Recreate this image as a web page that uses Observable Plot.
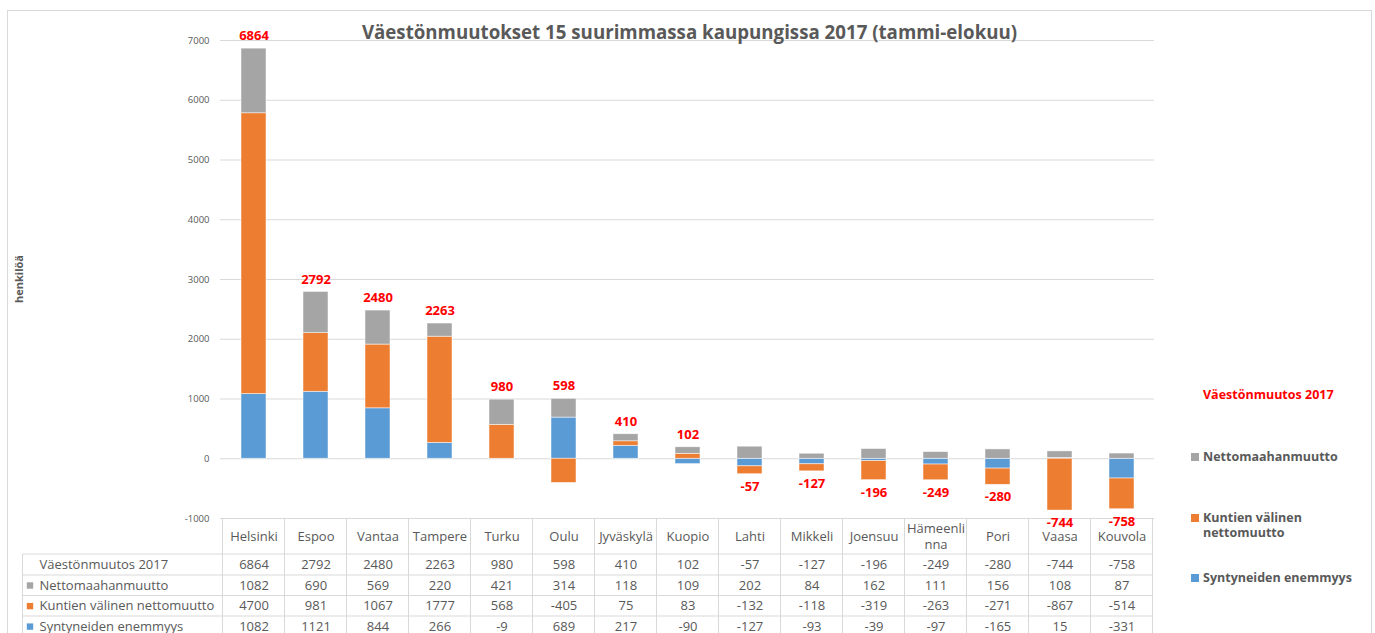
<!DOCTYPE html>
<html>
<head>
<meta charset="utf-8">
<script src="https://cdn.jsdelivr.net/npm/d3@7"></script>
<script src="https://cdn.jsdelivr.net/npm/@observablehq/plot@0.6"></script>
<style>
  body { margin: 0; background: #fff; }
  #wrap { position: relative; width: 1375px; height: 633px; overflow: hidden; font-family: "Open Sans", sans-serif; background: #fff; }
  #wrap svg { position: absolute; left: 0; top: 0; }
  .frame { position: absolute; left: 6.5px; top: 9.5px; width: 1365px; height: 700px; border: 1px solid #d9d9d9; box-sizing: border-box; }
  .title { position: absolute; left: 0; width: 1379px; text-align: center; top: 19px; line-height: 26px; font-weight: bold; font-size: 18.7px; color: #595959; white-space: nowrap; }
  .ytitle { position: absolute; left: 18px; top: 279px; transform: translate(-50%, -50%) rotate(-90deg); font-weight: bold; font-size: 11px; color: #595959; white-space: nowrap; }
  .leg { position: absolute; left: 1203px; font-weight: bold; font-size: 12.5px; color: #595959; line-height: 15.5px; white-space: nowrap; }
  .leg.head { color: #ff0000; }
  .sw { position: absolute; width: 8px; height: 8px; left: 1191px; }
</style>
</head>
<body>
<div id="wrap"></div>
<script>
// ---- data ----
const cities = ["Helsinki", "Espoo", "Vantaa", "Tampere", "Turku", "Oulu", "Jyväskylä", "Kuopio", "Lahti", "Mikkeli", "Joensuu", "Hämeenlinna", "Pori", "Vaasa", "Kouvola"];
const cityLabels = ["Helsinki", "Espoo", "Vantaa", "Tampere", "Turku", "Oulu", "Jyväskylä", "Kuopio", "Lahti", "Mikkeli", "Joensuu", "Hämeenli\nnna", "Pori", "Vaasa", "Kouvola"];
const totalChange = [6864, 2792, 2480, 2263, 980, 598, 410, 102, -57, -127, -196, -249, -280, -744, -758];
const netImmigration = [1082, 690, 569, 220, 421, 314, 118, 109, 202, 84, 162, 111, 156, 108, 87];
const netMunicipal = [4700, 981, 1067, 1777, 568, -405, 75, 83, -132, -118, -319, -263, -271, -867, -514];
const birthSurplus = [1082, 1121, 844, 266, -9, 689, 217, -90, -127, -93, -39, -97, -165, 15, -331];
const totalName = "Väestönmuutos 2017";
const seriesNames = ["Syntyneiden enemmyys", "Kuntien välinen nettomuutto", "Nettomaahanmuutto"];
const seriesColors = ["#5B9BD5", "#ED7D31", "#A5A5A5"];
const yTicks = [-1000, 0, 1000, 2000, 3000, 4000, 5000, 6000, 7000];
const titleText = "Väestönmuutokset 15 suurimmassa kaupungissa 2017 (tammi-elokuu)";
const yLabel = "henkilöä";

// ---- derived tables ----
const seriesValues = [birthSurplus, netMunicipal, netImmigration];
const bars = [];
seriesNames.forEach((s, k) => cities.forEach((c, i) => bars.push({city: c, series: s, value: seriesValues[k][i]})));
const totals = cities.map((c, i) => {
  const comps = seriesValues.map(v => v[i]);
  const pos = d3.sum(comps.filter(v => v > 0));
  const neg = d3.sum(comps.filter(v => v < 0));
  return {city: c, total: totalChange[i], pos, neg};
});
const tableRows = [
  {label: totalName, values: totalChange, color: null},
  {label: seriesNames[2], values: netImmigration, color: seriesColors[2]},
  {label: seriesNames[1], values: netMunicipal, color: seriesColors[1]},
  {label: seriesNames[0], values: birthSurplus, color: seriesColors[0]}
];
const rowDy = [46.3, 67, 87.6, 108.1];

const textColor = "#595959";
const tableMarks = [];
tableMarks.push(Plot.text(cities, {x: d => d, frameAnchor: "bottom", lineAnchor: "middle", dy: 17.5, text: (d, i) => cityLabels[i], fontSize: 13, fill: textColor, lineHeight: 1.2}));
tableRows.forEach((row, r) => {
  tableMarks.push(Plot.text(cities, {x: d => d, frameAnchor: "bottom", lineAnchor: "middle", dy: rowDy[r], text: (d, i) => String(row.values[i]), fontSize: 13, fill: textColor}));
  tableMarks.push(Plot.text([row.label], {frameAnchor: "bottom-left", lineAnchor: "middle", dx: -181, dy: rowDy[r], text: d => d, textAnchor: "start", fontSize: 13, fill: textColor}));
  if (row.color) tableMarks.push(Plot.dot([row.label], {frameAnchor: "bottom-left", dx: -190.5, dy: rowDy[r], symbol: "square", r: 3.6, fill: row.color}));
});

const plot = Plot.plot({
  width: 1375,
  height: 633,
  marginLeft: 220,
  marginRight: 221,
  marginTop: 40,
  marginBottom: 115,
  style: {fontFamily: "'Open Sans', sans-serif", background: "transparent", overflow: "visible"},
  x: {domain: cities, paddingInner: 0.6, paddingOuter: 0.3, axis: null},
  y: {domain: [-1000, 7000], axis: null},
  color: {domain: seriesNames, range: seriesColors},
  marks: [
    Plot.gridY(yTicks, {stroke: "#d9d9d9", strokeOpacity: 1, strokeWidth: 1}),
    Plot.axisY(yTicks, {tickSize: 0, tickPadding: 11, fontSize: 9.5, color: textColor, label: null, tickFormat: d => String(d)}),
    Plot.barY(bars, {x: "city", y: "value", fill: "series", z: "series", stroke: "#ffffff", strokeWidth: 0.7, strokeOpacity: 0.7}),
    Plot.text(totals.filter(d => d.total >= 0), {x: "city", y: "pos", text: d => String(d.total), dy: -12.5, fill: "#ff0000", fontWeight: "bold", fontSize: 13}),
    Plot.text(totals.filter(d => d.total < 0), {x: "city", y: "neg", text: d => String(d.total), dy: 12.5, fill: "#ff0000", fontWeight: "bold", fontSize: 13}),
    ...tableMarks
  ]
});

// table grid lines from the scales
const sx = plot.scale("x"), sy = plot.scale("y");
const step = sx.step, bw = sx.bandwidth;
const edges = cities.map(c => sx.apply(c) - (step - bw) / 2);
edges.push(edges[edges.length - 1] + step);
const tableTop = sy.apply(-1000);
const rowLines = [554, 575, 595.5, 616];
const tableLeft = 22.5;
const g = d3.select(plot).append("g").attr("stroke", "#d9d9d9").attr("stroke-width", 1);
edges.forEach(x => g.append("line").attr("x1", x).attr("x2", x).attr("y1", tableTop).attr("y2", 640));
g.append("line").attr("x1", tableLeft).attr("x2", tableLeft).attr("y1", rowLines[0]).attr("y2", 640);
rowLines.forEach(y => g.append("line").attr("x1", tableLeft).attr("x2", edges[edges.length - 1]).attr("y1", y).attr("y2", y));

const wrap = document.getElementById("wrap");
const frame = document.createElement("div"); frame.className = "frame"; wrap.appendChild(frame);
wrap.appendChild(plot);
const t = document.createElement("div"); t.className = "title"; t.textContent = titleText; wrap.appendChild(t);
const yt = document.createElement("div"); yt.className = "ytitle"; yt.textContent = yLabel; wrap.appendChild(yt);

// legend (right)
const legendItems = [
  {text: totalName, color: null, cy: 395, head: true},
  {text: seriesNames[2], color: seriesColors[2], cy: 457},
  {text: "Kuntien välinen\nnettomuutto", color: seriesColors[1], cy: 517.5},
  {text: seriesNames[0], color: seriesColors[0], cy: 578}
];
legendItems.forEach(it => {
  const d = document.createElement("div");
  d.className = "leg" + (it.head ? " head" : "");
  d.style.top = (it.cy - 7.75) + "px";
  d.innerHTML = it.text.split("\n").join("<br>");
  wrap.appendChild(d);
  if (it.color) {
    const s = document.createElement("div");
    s.className = "sw"; s.style.background = it.color; s.style.top = (it.cy - 4) + "px";
    wrap.appendChild(s);
  }
});
</script>
</body>
</html>
